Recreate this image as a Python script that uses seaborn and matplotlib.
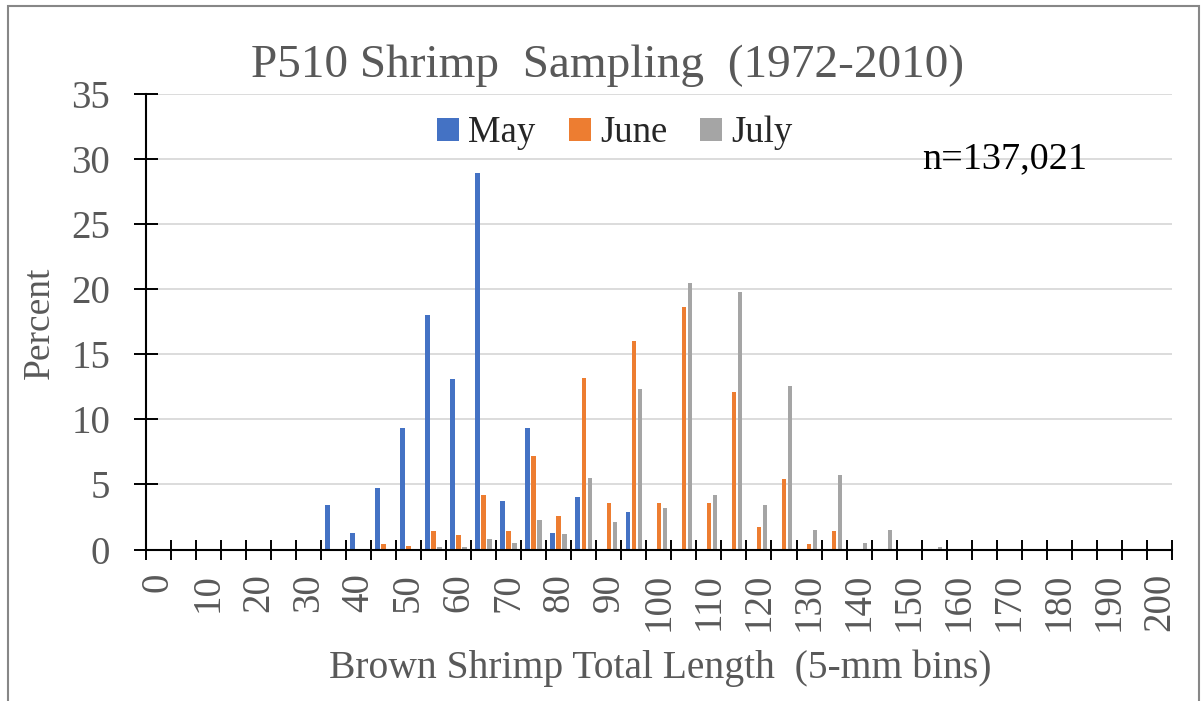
import numpy as np
import pandas as pd
import matplotlib
matplotlib.use("Agg")
import matplotlib.pyplot as plt
import seaborn as sns
from matplotlib.patches import Patch, Rectangle

# 5-mm total-length bins (category labels)
length_bins = [str(v) for v in range(0, 205, 5)]
months = ["May", "June", "July"]
month_colors = ["#4472C4", "#ED7D31", "#A5A5A5"]

# Percent of catch per length bin, by sampling month
may_pct = [0, 0, 0, 0, 0, 0, 0, 3.4, 1.3, 4.7, 9.3, 18.0, 13.1, 28.9, 3.7, 9.3, 1.3, 4.0, 0, 2.9,
           0, 0, 0, 0, 0, 0, 0, 0, 0, 0, 0, 0, 0, 0, 0, 0, 0, 0, 0, 0, 0]
june_pct = [0, 0, 0, 0.05, 0.05, 0.05, 0.05, 0.05, 0.05, 0.4, 0.3, 1.4, 1.1, 4.2, 1.4, 7.2, 2.6, 13.2, 3.6, 16.0,
            3.6, 18.6, 3.6, 12.1, 1.7, 5.4, 0.4, 1.4, 0.05, 0.05, 0.05, 0.05, 0.05, 0, 0, 0, 0, 0, 0, 0, 0]
july_pct = [0, 0, 0, 0, 0, 0, 0, 0, 0, 0, 0, 0.2, 0.2, 0.8, 0.5, 2.3, 1.2, 5.5, 2.1, 12.3,
            3.2, 20.5, 4.2, 19.8, 3.4, 12.6, 1.5, 5.7, 0.5, 1.5, 0.05, 0.2, 0, 0, 0, 0, 0, 0, 0, 0, 0]

sample_note = "n=137,021"
title_text = "P510 Shrimp  Sampling  (1972-2010)"
x_label = "Brown Shrimp Total Length  (5-mm bins)"
y_label = "Percent"

df = pd.DataFrame({
    "bin": length_bins * 3,
    "month": np.repeat(months, len(length_bins)),
    "pct": may_pct + june_pct + july_pct,
})

sns.set_style("white")
plt.rcParams["font.family"] = ["Liberation Serif", "DejaVu Serif"]

W, H = 1202, 701
fig = plt.figure(figsize=(W / 100, H / 100), dpi=100)
ax = fig.add_axes([145.7 / W, 1 - 549.5 / H, (1172 - 145.7) / W, (549.5 - 94) / H])

sns.barplot(data=df, x="bin", y="pct", hue="month", order=length_bins, hue_order=months,
            palette=month_colors, saturation=1, width=0.72, gap=0.25, linewidth=0,
            errorbar=None, legend=False, ax=ax)

ax.set_xlim(-0.5, len(length_bins) - 0.5)
ax.set_ylim(0, 35)
ax.set_xlabel("")
ax.set_ylabel("")

for side in ("top", "right"):
    ax.spines[side].set_visible(False)
for side in ("left", "bottom"):
    ax.spines[side].set_color("black")
    ax.spines[side].set_linewidth(1.5)

ax.set_axisbelow(True)
ax.yaxis.grid(True, color="#D9D9D9", linewidth=1.3)
ax.xaxis.grid(False)

gray_text = "#595959"
ax.set_yticks(range(0, 36, 5))
ax.tick_params(axis="y", which="major", left=True, direction="inout", length=17, width=1.4,
               color="black", labelsize=28, labelcolor=gray_text, pad=17)

ax.set_xticks(range(0, len(length_bins), 2))
ax.set_xticklabels(length_bins[::2], rotation=90)
ax.set_xticks(np.arange(-0.5, len(length_bins), 1.0), minor=True)
ax.tick_params(axis="x", which="major", bottom=True, length=0, labelsize=28,
               labelcolor=gray_text, pad=17)
ax.tick_params(axis="x", which="minor", bottom=True, direction="inout", length=15,
               width=1.4, color="black")

fig.text(608 / W, 1 - 77 / H, title_text, ha="center", va="baseline",
         fontsize=34, color=gray_text)
fig.text(40 / W, 1 - 323 / H, y_label, ha="center", va="center", rotation=90,
         fontsize=27, color=gray_text)
fig.text(660 / W, 1 - 678 / H, x_label, ha="center", va="baseline",
         fontsize=28.5, color=gray_text)
fig.text(922 / W, 1 - 168 / H, sample_note, ha="left", va="baseline",
         fontsize=27.5, color="black")

handles = [Patch(facecolor=c, edgecolor="none", label=m) for m, c in zip(months, month_colors)]
fig.legend(handles=handles, loc="center", bbox_to_anchor=(615 / W, 1 - 133 / H), ncol=3,
           frameon=False, fontsize=26.5, handlelength=0.6, handleheight=0.6,
           handletextpad=0.25, columnspacing=0.9, borderpad=0)

fig.patches.append(Rectangle((8 / W, -0.05), (1199 - 8) / W, 1.05 - 6 / H,
                             transform=fig.transFigure, fill=False,
                             edgecolor="#878787", linewidth=1.5))

fig.savefig("out.png", dpi=100)
